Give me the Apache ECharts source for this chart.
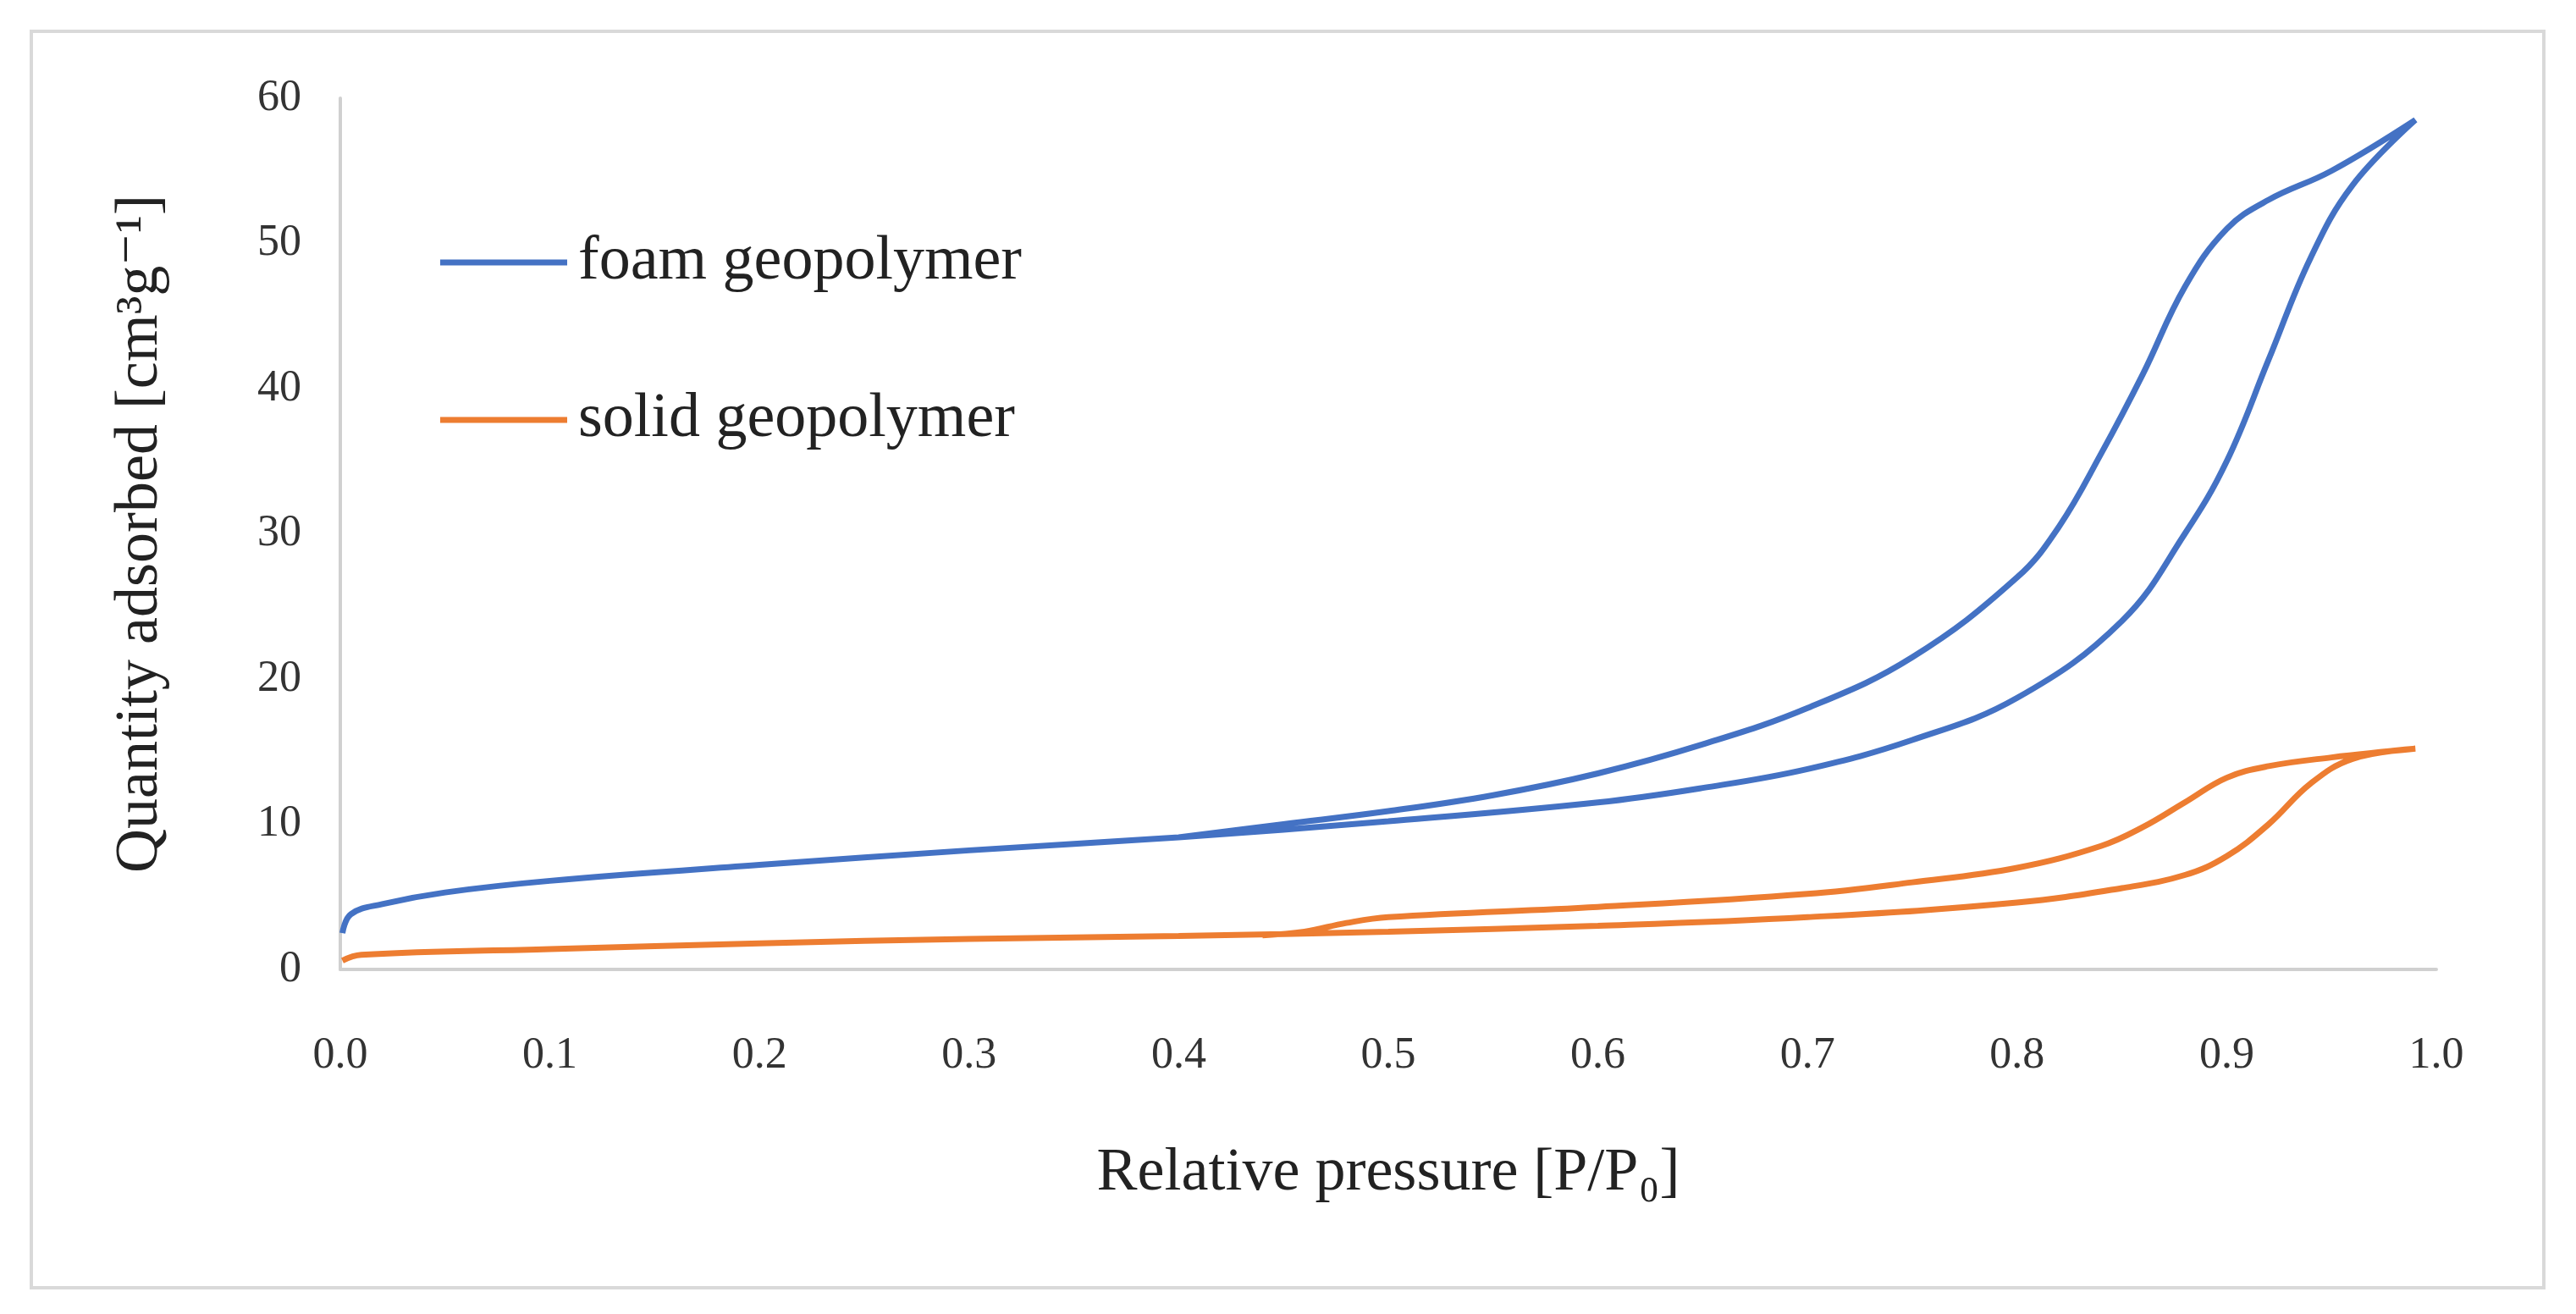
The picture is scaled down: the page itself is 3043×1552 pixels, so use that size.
<!DOCTYPE html>
<html><head><meta charset="utf-8">
<script src="https://cdn.jsdelivr.net/npm/echarts@6/dist/echarts.min.js"></script>
<style>html,body{margin:0;padding:0;background:#fff}#c{width:3043px;height:1552px}
#f{position:absolute;left:35px;top:35px;width:2964px;height:1480px;border:4px solid #d9d9d9}</style>
</head><body><div id="f"></div><div id="c"></div>
<script>
const foamAds = [[0.001,2.5],[0.005,3.8],[0.02,4.5],[0.05,5.3],[0.1,6.1],[0.2,7.2],[0.3,8.2],[0.4,9.1],[0.5,10.2],[0.6,11.5],[0.65,12.5],[0.7,13.8],[0.75,15.8],[0.8,18.7],[0.85,24],[0.88,30],[0.9,35],[0.92,42],[0.94,49],[0.96,54],[0.99,58.5]];
const foamDes = [[0.99,58.5],[0.95,55],[0.92,53],[0.9,51],[0.88,47],[0.86,41],[0.84,35.5],[0.82,30.5],[0.8,27],[0.75,21.5],[0.7,18],[0.65,15.5],[0.6,13.5],[0.55,12],[0.5,10.9],[0.45,10.0],[0.4,9.1]];
const solidAds = [[0.001,0.6],[0.01,1.0],[0.1,1.4],[0.2,1.8],[0.3,2.1],[0.4,2.3],[0.5,2.6],[0.6,3.0],[0.7,3.6],[0.8,4.6],[0.85,5.6],[0.88,6.5],[0.9,7.8],[0.92,10],[0.94,12.8],[0.96,14.5],[0.99,15.2]];
const solidDes = [[0.99,15.2],[0.95,14.6],[0.92,14],[0.9,13.2],[0.88,11.5],[0.86,9.8],[0.84,8.5],[0.8,7],[0.75,6],[0.7,5.2],[0.6,4.3],[0.5,3.6],[0.48,3.2],[0.46,2.6],[0.44,2.35]];
const seriesNames = ['foam geopolymer','solid geopolymer'];
const colors = ['#4472c4','#ed7d31'];
const font = 'Liberation Serif, DejaVu Serif, serif';
const chart = echarts.init(document.getElementById('c'));
chart.setOption({
  animation:false,
  textStyle:{fontFamily:font},
  grid:{left:402,right:165,top:116,bottom:407},
  legend:{orient:'vertical',left:515,top:268,itemWidth:150,itemHeight:7,itemGap:112,
    icon:'rect',data:seriesNames,textStyle:{fontFamily:font,fontSize:74,color:'#222',padding:[0,0,0,8]}},
  xAxis:{type:'value',min:0,max:1,interval:0.1,
    axisLine:{lineStyle:{color:'#d0d0d0',width:4}},axisTick:{show:false},splitLine:{show:false},
    axisLabel:{formatter:v=>v.toFixed(1),fontSize:52,color:'#333',margin:76,fontFamily:font},
    name:'Relative pressure [P/P₀]',nameLocation:'middle',nameGap:205,
    nameTextStyle:{fontSize:72,color:'#222',fontFamily:font}},
  yAxis:{type:'value',min:0,max:60,interval:10,
    axisLine:{show:true,lineStyle:{color:'#d0d0d0',width:4}},axisTick:{show:false},splitLine:{show:false},
    axisLabel:{fontSize:52,color:'#333',margin:46,fontFamily:font},
    name:'Quantity adsorbed [cm³g⁻¹]',nameLocation:'middle',nameGap:200,nameRotate:90,
    nameTextStyle:{fontSize:72,color:'#222',fontFamily:font}},
  series:[
    {name:seriesNames[0],type:'line',smooth:0.4,showSymbol:false,data:foamAds.concat(foamDes),
     lineStyle:{width:7,color:colors[0]},itemStyle:{color:colors[0]}},
    {name:seriesNames[1],type:'line',smooth:0.4,showSymbol:false,data:solidAds.concat(solidDes),
     lineStyle:{width:7,color:colors[1]},itemStyle:{color:colors[1]}}
  ]
});
</script></body></html>
